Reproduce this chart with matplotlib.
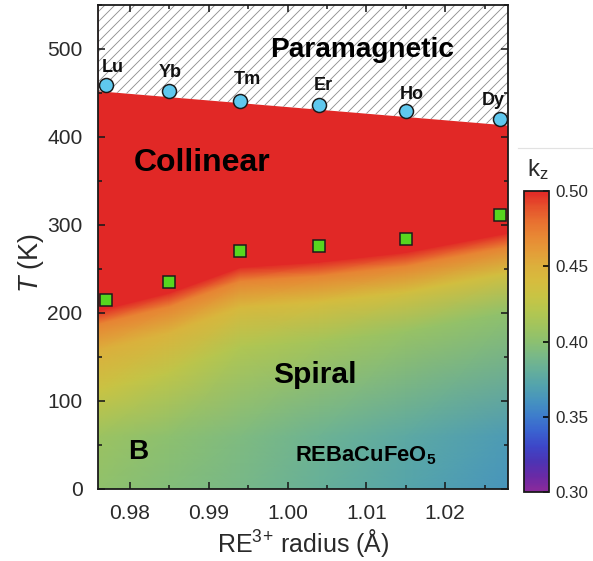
import numpy as np
import matplotlib
matplotlib.use("Agg")
import matplotlib.pyplot as plt
from matplotlib.colors import LinearSegmentedColormap
from matplotlib.lines import Line2D

DPI = 60


def pt(px):
    # pixel size -> points at the figure dpi
    return px * 72.0 / DPI


plt.rcParams["font.family"] = ["Liberation Sans", "DejaVu Sans"]
plt.rcParams["mathtext.fontset"] = "custom"
plt.rcParams["mathtext.rm"] = "Liberation Sans"
plt.rcParams["mathtext.it"] = "Liberation Sans:italic"
plt.rcParams["mathtext.bf"] = "Liberation Sans:bold"
plt.rcParams["mathtext.default"] = "regular"
plt.rcParams["hatch.linewidth"] = 1.0

# ---- transition data ----
elements = ["Lu", "Yb", "Tm", "Er", "Ho", "Dy"]
radius = [0.977, 0.985, 0.994, 1.004, 1.015, 1.027]      # RE3+ radius (A)
T_N = [459, 452, 441, 436, 430, 420]                      # paramagnetic -> collinear (K)
T_spiral = [215, 235, 271, 276, 284, 311]                 # collinear -> spiral (K)

# paramagnetic boundary across the panel
para_r = [0.976, 1.028]
para_T = [452, 413]

# ---- k_z map: columns in radius, rows tied to the collinear edge ----
map_r = [0.976, 0.985, 0.994, 1.004, 1.015, 1.028]
collinear_edge = [203, 223, 252, 258, 269, 291]           # k_z reaches 0.50
row_fixed_T = [0, 60]
row_edge_offset = [-90, -45, -15, 0]
kz_rows = [
    [0.402, 0.396, 0.390, 0.382, 0.372, 0.362],   # T = 0
    [0.408, 0.400, 0.393, 0.385, 0.376, 0.366],   # T = 60
    [0.432, 0.425, 0.418, 0.412, 0.406, 0.402],   # edge - 90
    [0.450, 0.447, 0.443, 0.440, 0.438, 0.437],   # edge - 45
    [0.472, 0.472, 0.472, 0.472, 0.472, 0.472],   # edge - 15
    [0.500, 0.500, 0.500, 0.500, 0.500, 0.500],   # edge
    [0.500, 0.500, 0.500, 0.500, 0.500, 0.500],   # top
]

kz_colors = ["#8b2a9b", "#6a2aa6", "#4c34b4", "#3d46c8", "#3a62d0", "#3d7ccc",
             "#4592c0", "#52a2ae", "#64ae9c", "#78b888", "#8cc070", "#a0c45e",
             "#b4c650", "#c8c444", "#d6bc3e", "#dcb03c", "#e49c38", "#e88834",
             "#e87030", "#e5502c", "#e12826"]
cmap = LinearSegmentedColormap.from_list("kz", kz_colors)

# ---- figure ----
W, H = 593, 561
fig = plt.figure(figsize=(W / DPI, H / DPI), dpi=DPI)
ax = fig.add_axes([97.5 / W, 72 / H, 410.5 / W, 484 / H])
cax = fig.add_axes([524 / W, 69 / H, 25 / W, 301 / H])

edge = np.array(collinear_edge, dtype=float)
Y = [np.full(len(map_r), t, dtype=float) for t in row_fixed_T]
Y += [edge + off for off in row_edge_offset]
Y.append(np.full(len(map_r), 550.0))
Y = np.array(Y)
X = np.tile(map_r, (Y.shape[0], 1))
Z = np.array(kz_rows)

mesh = ax.pcolormesh(X, Y, Z, shading="gouraud", cmap=cmap, vmin=0.30, vmax=0.50,
                     zorder=0)

# paramagnetic region
ax.fill_between(para_r, para_T, 550, facecolor="white", edgecolor="#8c8c8c",
                hatch="//", linewidth=0, zorder=1)

ax.plot(radius, T_spiral, ls="none", marker="s", ms=pt(12), mfc="#57d61f",
        mec="#1a1a1a", mew=pt(1.5), zorder=4, clip_on=False)
ax.plot(radius, T_N, ls="none", marker="o", ms=pt(14), mfc="#5fc8ee",
        mec="#1a1a1a", mew=pt(1.5), zorder=4, clip_on=False)

offsets = [(6, 18), (1, 19), (7, 21), (4, 20), (6, 16), (-7, 19)]
for name, r, t, off in zip(elements, radius, T_N, offsets):
    ax.annotate(name, (r, t), xytext=(pt(off[0]), pt(off[1])),
                textcoords="offset points", ha="center", va="center",
                fontsize=pt(18), fontweight="bold", color="#111111", zorder=5)

ax.text(1.0094, 499, "Paramagnetic", ha="center", va="center",
        fontsize=pt(28), fontweight="bold", zorder=5)
ax.text(0.9891, 370, "Collinear", ha="center", va="center",
        fontsize=pt(32), fontweight="bold", zorder=5)
ax.text(1.0034, 130, "Spiral", ha="center", va="center",
        fontsize=pt(30), fontweight="bold", zorder=5)
ax.text(0.9811, 42, "B", ha="center", va="center",
        fontsize=pt(28), fontweight="bold", zorder=5)
ax.text(1.0188, 38, r"REBaCuFeO$_\mathbf{5}$", ha="right", va="center",
        fontsize=pt(22), fontweight="bold", zorder=5)

ax.set_xlim(0.97588, 1.02797)
ax.set_ylim(0, 550)
ax.set_xticks(np.arange(0.98, 1.0201, 0.01))
ax.set_xticks(np.arange(0.985, 1.0251, 0.01), minor=True)
ax.set_xticklabels(["0.98", "0.99", "1.00", "1.01", "1.02"])
ax.set_yticks(np.arange(0, 501, 100))
ax.set_yticks(np.arange(50, 551, 100), minor=True)
ax.tick_params(which="both", direction="in", top=True, right=True,
               width=pt(1.6), color="#1a1a1a")
ax.tick_params(which="major", length=pt(7), labelsize=pt(21), pad=pt(15),
               labelcolor="#2a2a2a")
ax.tick_params(which="minor", length=pt(4))
for s in ax.spines.values():
    s.set_linewidth(pt(1.8))
    s.set_color("#1a1a1a")

ax.set_xlabel(r"RE$^{3}$$^{+}$ radius (Å)", fontsize=pt(25), color="#2a2a2a")
ax.xaxis.set_label_coords(0.5, -0.078)
ax.set_ylabel(r"$\mathit{T}$ (K)", fontsize=pt(27), color="#2a2a2a")
ax.yaxis.set_label_coords(-0.125, 0.467)

cb = fig.colorbar(mesh, cax=cax)
cb.set_ticks([0.30, 0.35, 0.40, 0.45, 0.50])
cb.set_ticklabels(["0.30", "0.35", "0.40", "0.45", "0.50"])
cax.tick_params(direction="in", length=pt(6), width=pt(1.6), labelsize=pt(17),
                pad=pt(6), labelcolor="#2a2a2a")
cb.outline.set_linewidth(pt(1.8))
cb.outline.set_edgecolor("#1a1a1a")
cax.text(0.55, 1.03, r"k$_z$", transform=cax.transAxes, ha="center", va="bottom",
         fontsize=pt(24), color="#2a2a2a")

fig.add_artist(Line2D([518 / W, 1.0], [1 - 148 / H, 1 - 148 / H],
                      transform=fig.transFigure, color="#e2e2e2", lw=pt(1.2)))

fig.savefig("out.png", dpi=DPI)
